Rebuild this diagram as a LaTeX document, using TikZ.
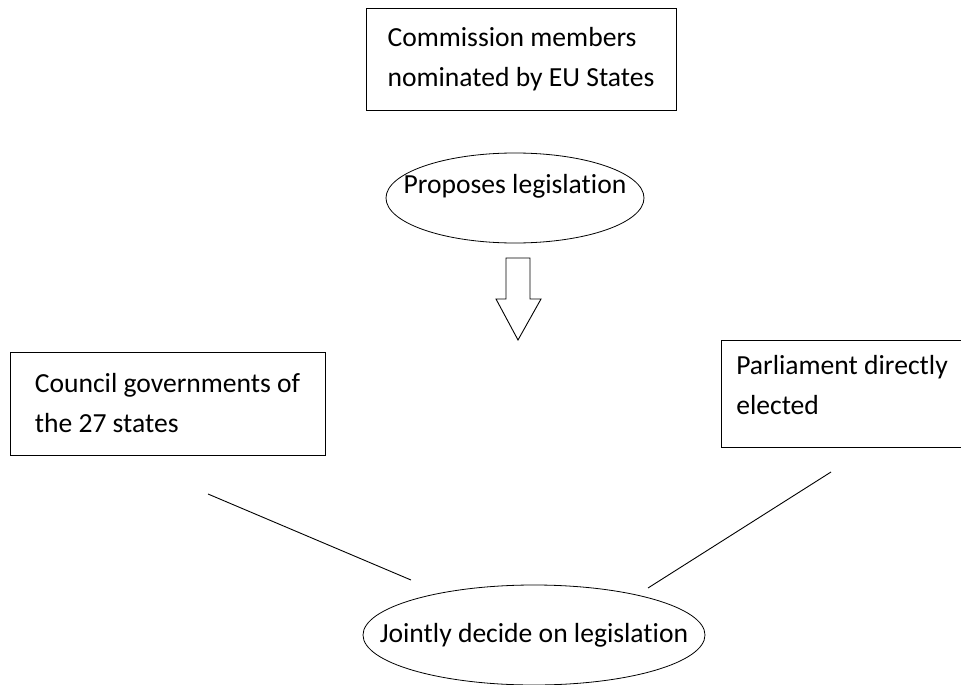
\documentclass[tikz,border=0pt]{standalone}
\usepackage{fontspec}
\setmainfont[Ligatures={NoCommon}]{Carlito}
\usetikzlibrary{shapes.geometric}
\begin{document}
\begin{tikzpicture}[x=1pt,y=-1pt,
  every node/.style={font=\fontsize{27.6}{40}\selectfont},
  box/.style={draw, line width=0.9pt, rectangle, align=left, inner sep=0pt},
  oval/.style={draw, line width=0.8pt, ellipse, inner sep=0pt},
  link/.style={line width=0.9pt},
  blockarrow/.style={draw, line width=0.9pt, line join=miter}]
\useasboundingbox (0,0) rectangle (961,685);
\fill[white] (0,0) rectangle (961,685);
% boxes
\node[box, minimum width=310pt, minimum height=102pt] (comm) at (521,59) {Commission members\\nominated by EU States};
\node[box, minimum width=315pt, minimum height=103pt] (council) at (167.5,403.5) {Council governments of\\the 27 states};
\node[box, minimum width=242pt, minimum height=107pt, text height=60pt, text depth=19pt] (parl) at (842,393.5) {Parliament directly\\elected};
% ellipses
\node[oval, minimum width=258pt, minimum height=90pt, text height=20pt, text depth=29pt] (prop) at (515,198) {\makebox[0pt]{Proposes legislation}};
\node[oval, minimum width=342pt, minimum height=100pt] (joint) at (534,635) {\makebox[0pt]{Jointly decide on legislation}};
% block arrow
\coordinate (atop) at (518,258);
\draw[blockarrow] ([xshift=-12pt]atop) -- ++(0,41) -- ++(-10,0) -- (518,340) coordinate (atip)
  -- (541,299) -- ([xshift=12pt]atop |- 0,299) -- ([xshift=12pt]atop) -- cycle;
% connector lines
\coordinate (l1a) at (208,494);
\coordinate (l1b) at (411,580);
\coordinate (l2a) at (831,472);
\coordinate (l2b) at (648,588);
\draw[link] (l1a) -- (l1b);
\draw[link] (l2a) -- (l2b);
\end{tikzpicture}
\end{document}
